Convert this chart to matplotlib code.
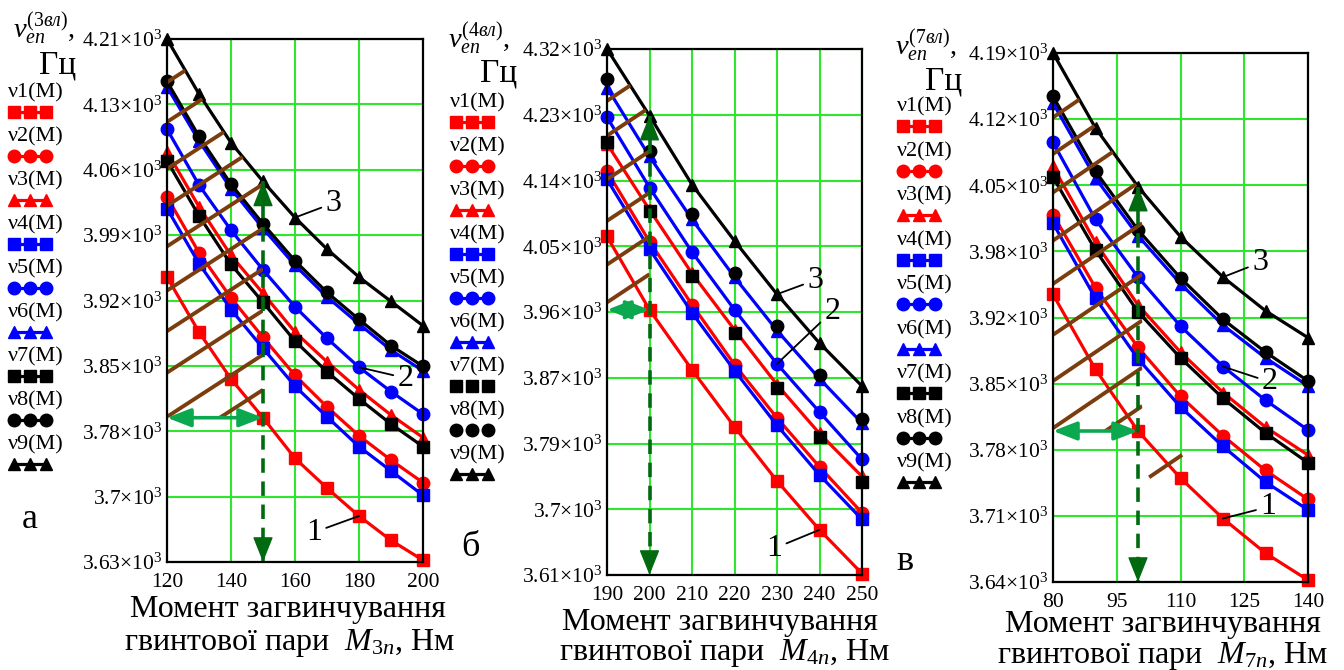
import numpy as np
import matplotlib
matplotlib.use('Agg')
import matplotlib.pyplot as plt
from matplotlib.lines import Line2D
from matplotlib.patches import Polygon

plt.rcParams['font.family'] = ['Liberation Serif', 'DejaVu Serif']
plt.rcParams['mathtext.fontset'] = 'custom'
plt.rcParams['mathtext.rm'] = 'Liberation Serif'
plt.rcParams['mathtext.it'] = 'Liberation Serif:italic'
plt.rcParams['mathtext.bf'] = 'Liberation Serif:bold'

# панель а: 3 витки
m3 = [120, 130, 140, 150, 160, 170, 180, 190, 200]
a_nu1 = [3946, 3885, 3833, 3790, 3745, 3712, 3681, 3654, 3632]
a_nu2 = [4035, 3973, 3923, 3879, 3837, 3802, 3770, 3743, 3718]
a_nu3 = [4085, 4024, 3970, 3928, 3885, 3852, 3821, 3793, 3768]
a_nu4 = [4022, 3961, 3910, 3867, 3825, 3791, 3758, 3731, 3704]
a_nu5 = [4110, 4048, 3998, 3954, 3913, 3878, 3846, 3819, 3794]
a_nu6 = [4157, 4097, 4044, 4000, 3959, 3924, 3894, 3865, 3842]
a_nu7 = [4075, 4014, 3960, 3918, 3875, 3841, 3811, 3783, 3758]
a_nu8 = [4163, 4102, 4049, 4005, 3964, 3929, 3899, 3870, 3847]
a_nu9 = [4210, 4149, 4095, 4052, 4012, 3977, 3946, 3919, 3892]

# панель б: 4 витки
m4 = [190, 200, 210, 220, 230, 240, 250]
b_nu1 = [4067, 3968, 3887, 3810, 3737, 3671, 3612]
b_nu2 = [4155, 4060, 3975, 3894, 3822, 3756, 3694]
b_nu3 = [4192, 4103, 4017, 3941, 3867, 3801, 3743]
b_nu4 = [4144, 4050, 3964, 3886, 3812, 3745, 3685]
b_nu5 = [4228, 4133, 4046, 3968, 3895, 3830, 3766]
b_nu6 = [4268, 4175, 4090, 4012, 3940, 3875, 3815]
b_nu7 = [4194, 4101, 4013, 3937, 3863, 3796, 3735]
b_nu8 = [4279, 4182, 4097, 4018, 3946, 3880, 3820]
b_nu9 = [4320, 4230, 4137, 4061, 3989, 3923, 3865]

# панель в: 7 витків
m7 = [80, 90, 100, 110, 120, 130, 140]
c_nu1 = [3939, 3861, 3797, 3748, 3706, 3670, 3642]
c_nu2 = [4022, 3946, 3884, 3833, 3792, 3756, 3726]
c_nu3 = [4072, 3993, 3928, 3879, 3837, 3801, 3772]
c_nu4 = [4013, 3935, 3872, 3822, 3781, 3744, 3715]
c_nu5 = [4097, 4017, 3957, 3906, 3864, 3829, 3798]
c_nu6 = [4138, 4060, 4000, 3950, 3907, 3873, 3844]
c_nu7 = [4061, 3985, 3921, 3873, 3831, 3795, 3764]
c_nu8 = [4145, 4067, 4006, 3956, 3913, 3879, 3849]
c_nu9 = [4190, 4112, 4051, 3999, 3957, 3922, 3894]

a_yticks = ['3.63', '3.7', '3.78', '3.85', '3.92', '3.99', '4.06', '4.13', '4.21']
b_yticks = ['3.61', '3.7', '3.79', '3.87', '3.96', '4.05', '4.14', '4.23', '4.32']
c_yticks = ['3.64', '3.71', '3.78', '3.85', '3.92', '3.98', '4.05', '4.12', '4.19']
a_xticks = [120, 140, 160, 180, 200]
b_xticks = [190, 200, 210, 220, 230, 240, 250]
c_xticks = [80, 95, 110, 125, 140]

# штриховка: точки перетину з лівою віссю, нахил
a_hatch = [4162, 4118, 4066, 4025, 3980, 3931, 3886, 3840, 3791, 3752]
b_hatch = [4250, 4203, 4144, 4088, 4029, 3978]
c_hatch = [4123, 4085, 4045, 3995, 3950, 3897, 3849, 3800, 3760]

names = ['ν1(M)', 'ν2(M)', 'ν3(M)', 'ν4(M)', 'ν5(M)', 'ν6(M)', 'ν7(M)', 'ν8(M)', 'ν9(M)']
colors = ['#ff0000'] * 3 + ['#0000ff'] * 3 + ['#000000'] * 3
markers = ['s', 'o', '^'] * 3
msizes = {'s': 8.5, 'o': 9, '^': 9}

GRID = '#2ee62e'
BROWN = '#7b3d0e'
DGREEN = '#006a10'
LGREEN = '#0ca850'

W, H = 1344, 670


def fx(px):
    return px / W


def fy(py):
    return 1 - py / H


fig = plt.figure(figsize=(13.44, 6.7), dpi=100)

panels = [
    dict(rect=[167, 39, 423, 562], m=m3,
         data=[a_nu1, a_nu2, a_nu3, a_nu4, a_nu5, a_nu6, a_nu7, a_nu8, a_nu9],
         ylim=(3630, 4210), yt=a_yticks, xt=a_xticks, noline=[],
         hatch=a_hatch, slope=2.3, mark=150, bottom=3790, hright=150,
         sub='3', leg=(8, 93, 44), head=(13, 38, 76, 74), letter=('а', 30, 520),
         xl=(288, 617, 290, 650),
         labels=[('3', (172, 4028), (160, 4012)), ('2', (194.5, 3834), (180, 3846)),
                 ('1', (166, 3663), (180, 3681))]),
    dict(rect=[607, 49, 862, 575], m=m4,
         data=[b_nu1, b_nu2, b_nu3, b_nu4, b_nu5, b_nu6, b_nu7, b_nu8, b_nu9],
         ylim=(3610, 4320), yt=b_yticks, xt=b_xticks, noline=[6, 7],
         hatch=b_hatch, slope=3.8, mark=200, bottom=3968, hright=200,
         sub='4', leg=(450, 103, 44), head=(448, 48, 517, 82), letter=('б', 470, 548),
         xl=(720, 630, 725, 660),
         labels=[('3', (239, 4008), (230, 3989)), ('2', (243, 3966), (230, 3895)),
                 ('1', (229.4, 3646), (240, 3671))]),
    dict(rect=[1053, 53, 1308, 582], m=m7,
         data=[c_nu1, c_nu2, c_nu3, c_nu4, c_nu5, c_nu6, c_nu7, c_nu8, c_nu9],
         ylim=(3640, 4190), yt=c_yticks, xt=c_xticks, noline=[],
         hatch=c_hatch, slope=3.0, mark=100, bottom=3797, hright=101,
         sub='7', leg=(897, 107, 44.5), head=(895, 55, 962, 89), letter=('в', 905, 562),
         xl=(1163, 632, 1163, 663),
         labels=[('3', (128.7, 3972), (120, 3957)), ('2', (131, 3848), (120, 3864)),
                 ('1', (130.6, 3718), (120, 3706))]),
]

stray_hatch = ((103, 3750), (110, 3771))

for k, p in enumerate(panels):
    x0, y0, x1, y1 = p['rect']
    ax = fig.add_axes([fx(x0), fy(y1), (x1 - x0) / W, (y1 - y0) / H])
    m = p['m']
    for i, vals in enumerate(p['data']):
        ls = 'none' if i in p['noline'] else '-'
        ax.plot(m, vals, color=colors[i], ls=ls, lw=2.3, marker=markers[i],
                ms=msizes[markers[i]], zorder=3 + i * 0.01, clip_on=False)
    ax.set_xlim(m[0], m[-1])
    ax.set_ylim(*p['ylim'])
    yt = np.linspace(p['ylim'][0], p['ylim'][1], len(p['yt']))
    ax.set_yticks(yt)
    ax.set_yticklabels([r'$%s{\times}10^{3}$' % s for s in p['yt']], fontsize=15.5)
    ax.set_xticks(p['xt'])
    ax.set_xticklabels([str(v) for v in p['xt']], fontsize=15.5)
    ax.tick_params(length=0, pad=3)
    ax.tick_params(axis='x', pad=8)
    ax.grid(True, color=GRID, lw=1.5, zorder=0)
    ax.set_axisbelow(True)
    for s in ax.spines.values():
        s.set_color('black')
        s.set_linewidth(1.6)
        s.set_zorder(8)

    # штрихована область
    nu9 = p['data'][8]
    mr = p['hright']
    ms_ = [v for v in m if v < mr] + [mr]
    top = np.interp(ms_, m, nu9)
    verts = [(m[0], p['bottom']), (mr, p['bottom'])] + list(zip(ms_[::-1], top[::-1]))
    clip = Polygon(verts, closed=True, transform=ax.transData)
    for c in p['hatch']:
        ln, = ax.plot([m[0], mr], [c, c + p['slope'] * (mr - m[0])], color=BROWN,
                      lw=2.8, zorder=5, solid_capstyle='butt')
        ln.set_clip_path(clip)
    if k == 2:
        ax.plot([stray_hatch[0][0], stray_hatch[1][0]], [stray_hatch[0][1], stray_hatch[1][1]],
                color=BROWN, lw=2.8, zorder=5)

    # стрілки
    mk = p['mark']
    vtop = np.interp(mk, m, nu9)
    vbot = p['ylim'][0]
    ax.plot([mk, mk], [vtop, vbot], color=DGREEN, lw=2.6, ls=(0, (4, 2.4)), zorder=6)
    for tip, tail in ((vtop, vbot), (vbot, vtop)):
        ax.annotate('', xy=(mk, tip), xytext=(mk, tip + (tail - tip) * 0.05),
                    arrowprops=dict(arrowstyle='-|>,head_length=1.0,head_width=0.4',
                                    color=DGREEN, lw=1, shrinkA=0, shrinkB=0,
                                    mutation_scale=16), zorder=7)
    ax.annotate('', xy=(mk, p['bottom']), xytext=(m[0], p['bottom']),
                arrowprops=dict(arrowstyle='<|-|>,head_length=0.9,head_width=0.35',
                                color=LGREEN, lw=2.6, shrinkA=0, shrinkB=0,
                                mutation_scale=16), zorder=7)

    for txt, pos, pt in p['labels']:
        ax.annotate(txt, xy=pt, xytext=pos, fontsize=23, ha='center', va='center',
                    arrowprops=dict(arrowstyle='-', color='black', lw=1.3,
                                    shrinkA=1, shrinkB=0), zorder=9)

    # легенда
    lx, ly, dy = p['leg']
    for i in range(9):
        yy = ly + i * dy
        fig.text(fx(lx), fy(yy), names[i], fontsize=16, ha='left', va='center')
        ls = 'none' if i in p['noline'] else '-'
        xs = [fx(lx + 6), fx(lx + 22), fx(lx + 38)]
        fig.add_artist(Line2D(xs, [fy(yy + 19)] * 3, transform=fig.transFigure,
                              color=colors[i], ls=ls, lw=2.3, marker=markers[i],
                              ms=msizes[markers[i]]))

    hx, hy, gx, gy = p['head']
    fig.text(fx(hx), fy(hy), r'$\nu_{en}^{(\mathit{%sвл})}$,' % p['sub'], fontsize=20.5,
             ha='left', va='baseline')
    fig.text(fx(gx), fy(gy), 'Гц', fontsize=24, ha='right', va='baseline')

    lt, lx_, ly_ = p['letter']
    fig.text(fx(lx_), fy(ly_), lt, fontsize=26, ha='center', va='center')

    c1, b1, c2, b2 = p['xl']
    fig.text(fx(c1), fy(b1), 'Момент загвинчування', fontsize=23, ha='center', va='baseline')
    fig.text(fx(c2), fy(b2), r'гвинтової пари  $M_{\mathrm{%s}n}$, Нм' % p['sub'],
             fontsize=23, ha='center', va='baseline')

fig.savefig('out.png', dpi=100)
